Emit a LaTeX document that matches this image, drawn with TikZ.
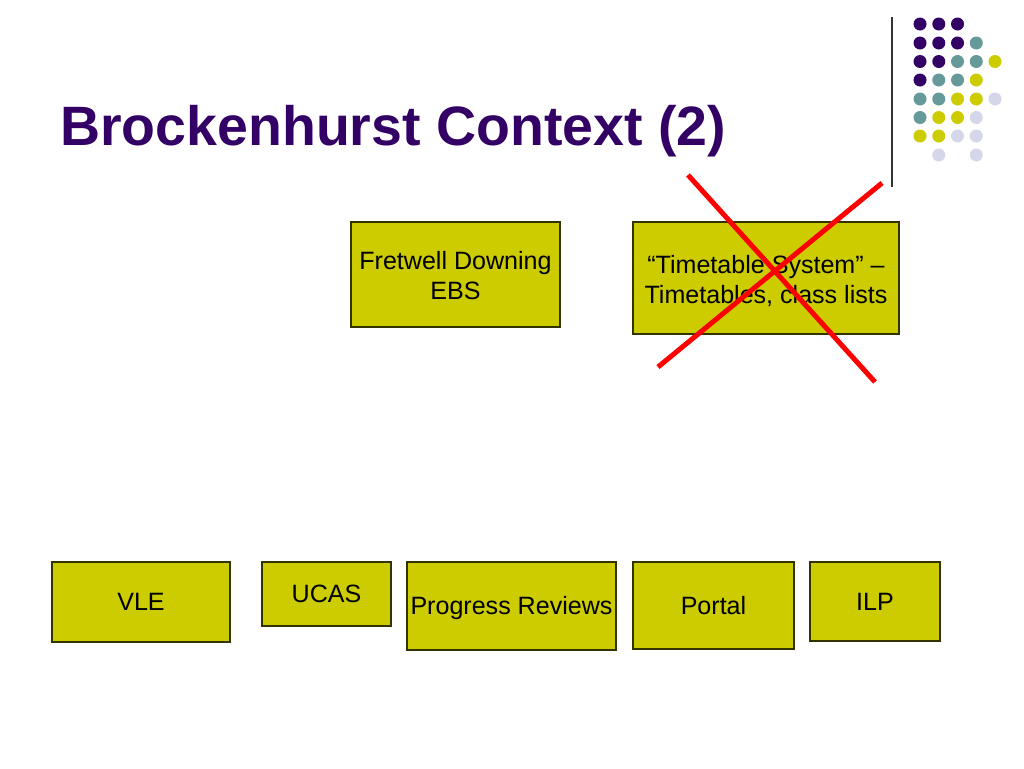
\documentclass[tikz,border=0pt]{standalone}
\usepackage{fontspec}
\setmainfont{Liberation Sans}
\definecolor{tpurple}{HTML}{330066}
\definecolor{tteal}{HTML}{669999}
\definecolor{tyellow}{HTML}{CCCC00}
\definecolor{tlav}{HTML}{D6D6EA}
\definecolor{tborder}{HTML}{333300}
\begin{document}
\begin{tikzpicture}[x=0.75pt,y=-0.75pt,
  sysbox/.style={draw=tborder, line width=0.9pt, fill=tyellow, inner sep=0pt, align=center,
    font=\fontsize{18.8pt}{22.5pt}\selectfont, text=black, text height=13.46pt, text depth=0pt},
  twoline/.style={text height=38.1pt, text depth=0pt},
  dot/.style={circle, inner sep=0pt, minimum size=13*0.75pt},
  cross/.style={draw=red, line width=5*0.75pt}]
\useasboundingbox[fill=white] (0,0) rectangle (1024,768);
% title
\node[anchor=base west, inner sep=0pt, text=tpurple, font=\fontsize{41.6pt}{48pt}\selectfont\bfseries] (title) at (60,145) {Brockenhurst Context (2)};
% separator line
\coordinate (ltop) at (892,17);
\coordinate (lbot) at (892,187);
\draw[line width=0.9pt, black!80] (ltop) -- (lbot);
% dot grid
\foreach \c [count=\i from 0] in {tpurple,tpurple,tpurple} \node[dot, fill=\c] (d0\i) at (920+\i*18.75,24) {};
\foreach \c [count=\i from 0] in {tpurple,tpurple,tpurple,tteal} \node[dot, fill=\c] (d1\i) at (920+\i*18.75,43) {};
\foreach \c [count=\i from 0] in {tpurple,tpurple,tteal,tteal,tyellow} \node[dot, fill=\c] (d2\i) at (920+\i*18.75,61.5) {};
\foreach \c [count=\i from 0] in {tpurple,tteal,tteal,tyellow} \node[dot, fill=\c] (d3\i) at (920+\i*18.75,80) {};
\foreach \c [count=\i from 0] in {tteal,tteal,tyellow,tyellow,tlav} \node[dot, fill=\c] (d4\i) at (920+\i*18.75,99) {};
\foreach \c [count=\i from 0] in {tteal,tyellow,tyellow,tlav} \node[dot, fill=\c] (d5\i) at (920+\i*18.75,117.5) {};
\foreach \c [count=\i from 0] in {tyellow,tyellow,tlav,tlav} \node[dot, fill=\c] (d6\i) at (920+\i*18.75,136) {};
\node[dot, fill=tlav] (d71) at (938.75,155) {};
\node[dot, fill=tlav] (d73) at (976.25,155) {};
% boxes
\node[sysbox, twoline, minimum width=209*0.75pt, minimum height=105*0.75pt] (ebs) at (455.5,274.5) {Fretwell Downing\\EBS};
\node[sysbox, twoline, minimum width=266*0.75pt, minimum height=112*0.75pt] (tts) at (766,278) {“Timetable System” –\\Timetables, class lists};
\node[sysbox, minimum width=178*0.75pt, minimum height=80*0.75pt] (vle) at (141,602) {VLE};
\node[sysbox, minimum width=129*0.75pt, minimum height=64*0.75pt] (ucas) at (326.5,594) {UCAS};
\node[sysbox, minimum width=209*0.75pt, minimum height=88*0.75pt] (prog) at (511.5,606) {Progress Reviews};
\node[sysbox, minimum width=161*0.75pt, minimum height=87*0.75pt] (portal) at (713.5,605.5) {Portal};
\node[sysbox, minimum width=130*0.75pt, minimum height=79*0.75pt] (ilp) at (875,601.5) {ILP};
% red cross
\coordinate (x1a) at (688,175);
\coordinate (x1b) at (875,382);
\coordinate (x2a) at (882,183);
\coordinate (x2b) at (658,367);
\draw[cross] (x1a) -- (x1b);
\draw[cross] (x2a) -- (x2b);
\end{tikzpicture}
\end{document}
